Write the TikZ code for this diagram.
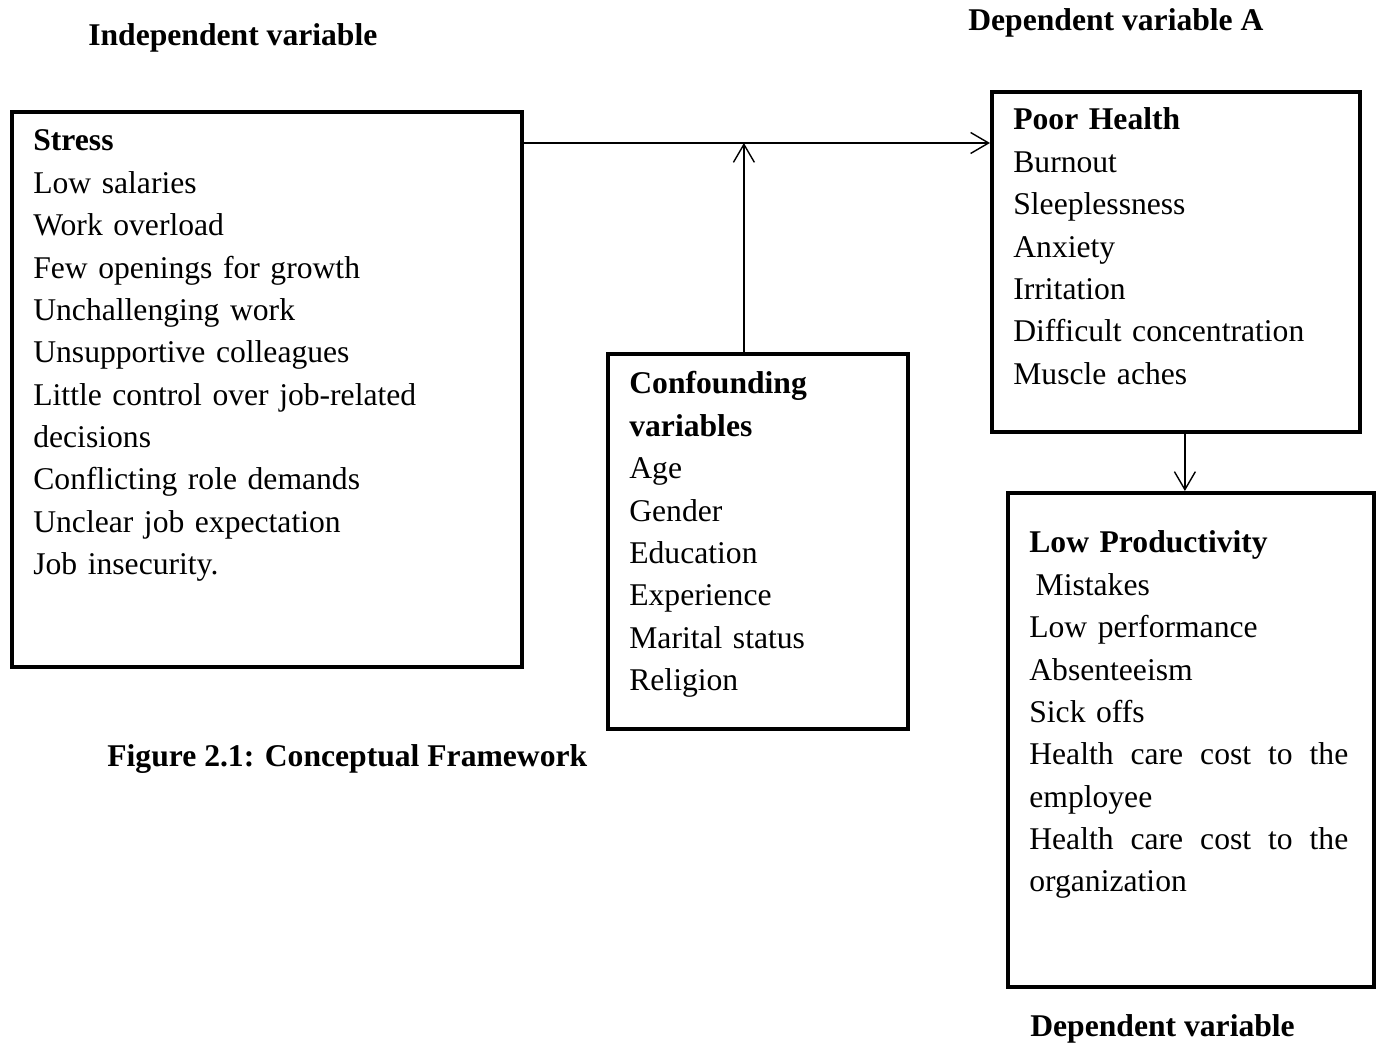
\documentclass[tikz,border=0pt]{standalone}
\usepackage{fontspec}
\setmainfont{Liberation Serif}
\usetikzlibrary{arrows.meta}

\begin{document}
\begin{tikzpicture}[x=0.02cm, y=-0.02cm,
  frame/.style={draw, line width=2.2pt, inner sep=0pt, anchor=north west},
  list/.style={anchor=base west, inner sep=0pt, align=left, font=\fontsize{18}{24.1}\selectfont},
  caption/.style={anchor=base west, inner sep=0pt, font=\fontsize{18}{24.1}\selectfont\bfseries},
  link/.style={-{Straight Barb[length=0.36cm, width=0.42cm, line width=0.8pt]}, line width=0.8pt}]
\useasboundingbox (0,0) rectangle (1377,1043);

\node[frame, minimum width=10.2cm, minimum height=11.1cm] (stress) at (10,110) {};
\node[frame, minimum width=6cm, minimum height=7.5cm] (conf) at (606,352) {};
\node[frame, minimum width=7.36cm, minimum height=6.8cm] (health) at (990,90) {};
\node[frame, minimum width=7.32cm, minimum height=9.88cm] (prod) at (1006,491) {};

\node[list, text width=9.6cm] (stresstext) at (33,151) {\textbf{Stress}\\Low salaries\\Work overload\\Few openings for growth\\Unchallenging work\\Unsupportive colleagues\\Little control over job-related\\decisions\\Conflicting role demands\\Unclear job expectation\\Job insecurity.};
\node[list, text width=5.6cm] (conftext) at (629,394) {\textbf{Confounding}\\\textbf{variables}\\Age\\Gender\\Education\\Experience\\Marital status\\Religion};
\node[list, text width=6.9cm] (healthtext) at (1013,130) {\textbf{Poor Health}\\Burnout\\Sleeplessness\\Anxiety\\Irritation\\Difficult concentration\\Muscle aches};
\node[list, text width=6.38cm] (prodtext) at (1029,553) {\textbf{Low Productivity}\\\hspace{0.2em}Mistakes\\Low performance\\Absenteeism\\Sick offs\\Health\hfill care\hfill cost\hfill to\hfill the\\employee\\Health\hfill care\hfill cost\hfill to\hfill the\\organization};

\node[caption] (indep) at (88,46) {Independent variable};
\node[caption] (depA) at (968,31) {Dependent variable A};
\node[caption] (figure) at (107,766) {Figure 2.1: Conceptual Framework};
\node[caption] (dep) at (1030,1036) {Dependent variable};

\coordinate (flow) at ([yshift=-0.66cm]stress.north east);
\draw[link] (flow) -- (flow -| health.west);
\draw[link] ([xshift=-0.28cm]conf.north) -- ([xshift=-0.28cm]conf.north |- flow);
\draw[link] ([xshift=0.18cm]health.south) -- ([xshift=0.18cm]health.south |- prod.north);
\end{tikzpicture}
\end{document}
